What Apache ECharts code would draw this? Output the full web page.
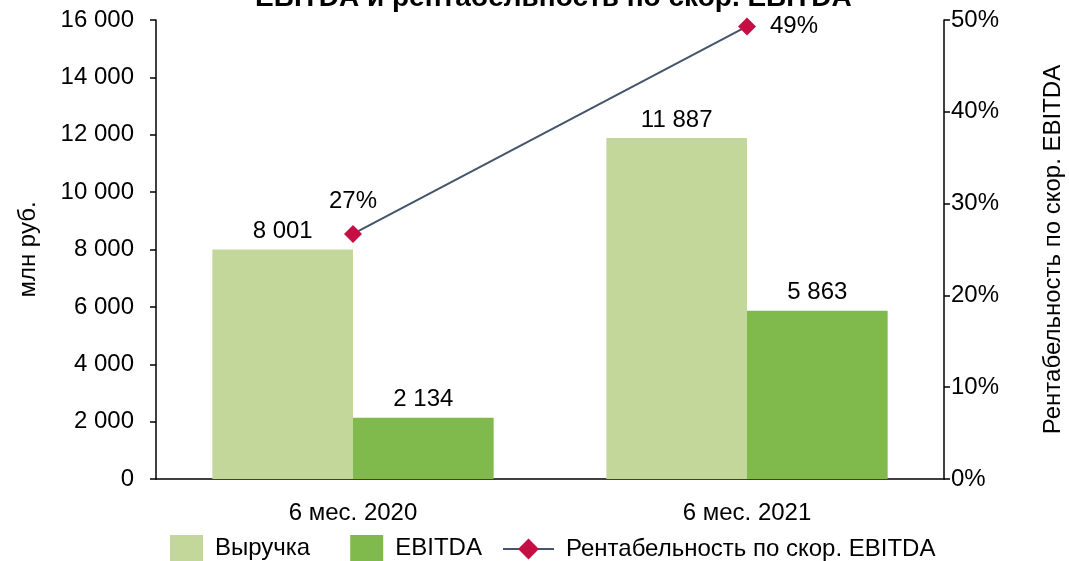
<!DOCTYPE html>
<html>
<head>
<meta charset="utf-8">
<script src="https://cdn.jsdelivr.net/npm/echarts@6/dist/echarts.min.js"></script>
<style>
  html, body { margin: 0; padding: 0; background: #fff; }
  #main { width: 1069px; height: 561px; }
</style>
</head>
<body>
<div id="main"></div>
<script>
// данные
const categories = ["6 мес. 2020", "6 мес. 2021"];
const revenue = [8001, 11887];
const ebitda = [2134, 5863];
const margin = [26.7, 49.3];

const font = "Liberation Sans, Arial, sans-serif";
const fs = 24;
const fmtNum = v => String(v).replace(/\B(?=(\d{3})+(?!\d))/g, " ");

const chart = echarts.init(document.getElementById("main"));
chart.setOption({
  animation: false,
  textStyle: { fontFamily: font },
  title: {
    text: "EBITDA и рентабельность по скор. EBITDA",
    left: 250,
    top: -21,
    textStyle: { fontSize: 28, fontWeight: "bold", color: "#000", fontFamily: font }
  },
  grid: { left: 156, right: 125, top: 20, bottom: 82, outerBoundsMode: "none", containLabel: false },
  legend: [
    {
      bottom: 0,
      left: 170,
      padding: 0,
      itemGap: 40,
      itemWidth: 33,
      itemHeight: 26,
      textStyle: { fontSize: fs, color: "#000", fontFamily: font, padding: [0, 0, 0, 7] },
      data: [
        { name: "Выручка", icon: "rect" },
        { name: "EBITDA", icon: "rect" }
      ]
    },
    {
      bottom: 0,
      left: 502,
      padding: 0,
      itemWidth: 51,
      itemHeight: 26,
      textStyle: { fontSize: fs, color: "#000", fontFamily: font, padding: [0, 0, 0, 7] },
      data: ["Рентабельность по скор. EBITDA"]
    }
  ],
  xAxis: {
    type: "category",
    data: categories,
    axisLine: { lineStyle: { color: "#000", width: 1.5 } },
    axisTick: { length: 6, lineStyle: { color: "#000", width: 1.5 } },
    axisLabel: { fontSize: fs, color: "#000", margin: 22 }
  },
  yAxis: [
    {
      type: "value",
      min: 0, max: 16000, interval: 2000,
      name: "млн руб.",
      nameLocation: "middle",
      nameRotate: 90,
      nameGap: 116,
      nameTextStyle: { fontSize: fs, color: "#000" },
      splitLine: { show: false },
      axisLine: { show: true, lineStyle: { color: "#000", width: 1.5 } },
      axisTick: { show: true, length: 6, lineStyle: { color: "#000", width: 1.5 } },
      axisLabel: { fontSize: fs, color: "#000", margin: 22, formatter: fmtNum }
    },
    {
      type: "value",
      min: 0, max: 50, interval: 10,
      name: "Рентабельность по скор. EBITDA",
      nameLocation: "middle",
      nameRotate: 90,
      nameGap: 97,
      nameTextStyle: { fontSize: fs, color: "#000" },
      splitLine: { show: false },
      axisLine: { show: true, lineStyle: { color: "#000", width: 1.5 } },
      axisTick: { show: true, length: 6, lineStyle: { color: "#000", width: 1.5 } },
      axisLabel: { fontSize: fs, color: "#000", margin: 7, formatter: "{value}%" }
    }
  ],
  series: [
    {
      name: "Выручка",
      type: "bar",
      data: revenue,
      barGap: "0%",
      barCategoryGap: "28.6%",
      itemStyle: { color: "#c4d79b" },
      label: { show: true, position: "top", distance: 6, fontSize: fs, color: "#000", formatter: p => fmtNum(p.value) }
    },
    {
      name: "EBITDA",
      type: "bar",
      data: ebitda,
      itemStyle: { color: "#80b94c" },
      label: { show: true, position: "top", distance: 6, fontSize: fs, color: "#000", formatter: p => fmtNum(p.value) }
    },
    {
      name: "Рентабельность по скор. EBITDA",
      type: "line",
      yAxisIndex: 1,
      data: [
        { value: margin[0], label: { position: "top", distance: 12 } },
        { value: margin[1], label: { position: "right", distance: 14 } }
      ],
      symbol: "diamond",
      symbolSize: 18,
      lineStyle: { color: "#44546a", width: 2 },
      itemStyle: { color: "#c40e44" },
      label: { show: true, fontSize: fs, color: "#000", formatter: p => Math.round(p.value) + "%" }
    }
  ]
});
</script>
</body>
</html>
